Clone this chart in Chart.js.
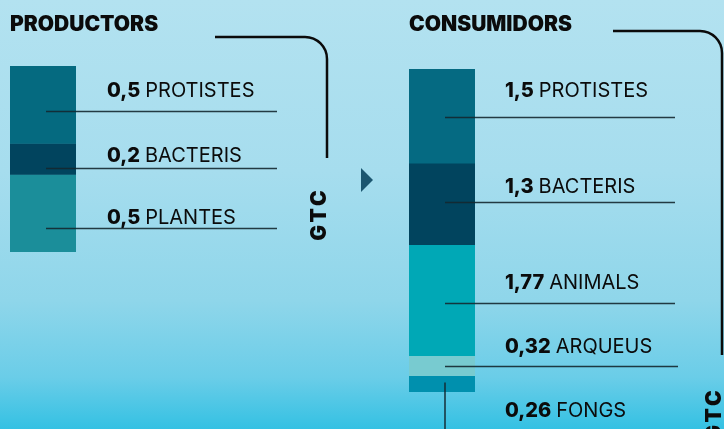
<!DOCTYPE html>
<html>
<head>
<meta charset="utf-8">
<script src="https://cdn.jsdelivr.net/npm/chart.js@4"></script>
<style>
  html, body { margin: 0; padding: 0; }
  body {
    width: 724px; height: 429px; overflow: hidden; position: relative;
    background: linear-gradient(180deg, #b3e2f0 0%, #a6ddee 40%, #8fd6ea 70%, #6acde8 88%, #34c1e3 100%);
  }
  canvas { position: absolute; top: 0; }
  #prodChart { left: 0; }
  #consChart { left: 362px; }
</style>
</head>
<body>
<canvas id="prodChart" width="400" height="429"></canvas>
<canvas id="consChart" width="362" height="429"></canvas>
<script>
// dades (GtC)
const producerNames = ['PROTISTES', 'BACTERIS', 'PLANTES'];
const producerValues = [0.5, 0.2, 0.5];
const consumerNames = ['PROTISTES', 'BACTERIS', 'ANIMALS', 'ARQUEUS', 'FONGS'];
const consumerValues = [1.5, 1.3, 1.77, 0.32, 0.26];
const unitLabel = 'GTC';

const producerColors = ['#056a80', '#01445e', '#1b8e9a'];
const consumerColors = ['#056a82', '#01445e', '#00a8b6', '#78cbd0', '#0090ae'];

const fmt = v => String(v).replace('.', ',');
const sum = arr => arr.reduce((a, b) => a + b, 0);

// on cau la línia dins de cada segment i on va el text respecte la línia
const producerLineFrac = [0.58, 0.79, 0.69];
const producerTextDy = [-21, -13, -11];
const consumerLineFrac = [0.51, 0.48, 0.53, 0.52, 0.5];
const consumerTextDy = [-27, -16, -21, -20, 26];

const LABEL_FONT = '20px Inter';
const VALUE_FONT = '800 20px Inter';
const TITLE_FONT = '900 21px Inter';

function drawBracket(ctx, x0, y0, x1, y1, r) {
  ctx.save();
  ctx.strokeStyle = '#0b0b0b';
  ctx.lineWidth = 2.5;
  ctx.beginPath();
  ctx.moveTo(x0, y0);
  ctx.lineTo(x1 - r, y0);
  ctx.arcTo(x1, y0, x1, y0 + r, r);
  ctx.lineTo(x1, y1);
  ctx.stroke();
  ctx.restore();
}

function drawUnit(ctx, x, y) {
  ctx.save();
  ctx.translate(x, y);
  ctx.rotate(-Math.PI / 2);
  ctx.font = '900 21px Inter';
  ctx.letterSpacing = '3px';
  ctx.fillStyle = '#0b0b0b';
  ctx.textAlign = 'center';
  ctx.textBaseline = 'middle';
  ctx.fillText(unitLabel, 0, 0);
  ctx.restore();
}

function makeLabelPlugin(opts) {
  return {
    id: 'labels_' + opts.key,
    afterDraw(chart) {
      const ctx = chart.ctx;
      const area = chart.chartArea;
      const y = chart.scales.y;
      const cx = (area.left + area.right) / 2 + 3;

      // títol
      ctx.save();
      ctx.font = TITLE_FONT;
      ctx.fillStyle = '#0b0b0b';
      ctx.textBaseline = 'middle';
      ctx.fillText(opts.title, area.left, opts.titleY);
      ctx.restore();

      let start = 0;
      opts.values.forEach((v, i) => {
        const lineY = Math.round(y.getPixelForValue(start + v * opts.lineFrac[i])) + 0.5;
        ctx.save();
        ctx.strokeStyle = 'rgba(20, 40, 48, 0.9)';
        ctx.lineWidth = 1.6;
        ctx.beginPath();
        if (opts.vertical && i === opts.values.length - 1) {
          ctx.moveTo(cx, lineY - 2);
          ctx.lineTo(cx, chart.height);
        } else {
          ctx.moveTo(cx, lineY);
          ctx.lineTo(area.right + opts.lineLen + (opts.lineExtra[i] || 0), lineY);
        }
        ctx.stroke();

        const tx = area.right + opts.textGap;
        const ty = lineY + opts.textDy[i];
        ctx.textBaseline = 'middle';
        ctx.fillStyle = '#0b0b0b';
        ctx.font = VALUE_FONT;
        const num = fmt(v);
        ctx.fillText(num, tx, ty);
        const w = ctx.measureText(num).width;
        ctx.font = LABEL_FONT;
        ctx.fillText(opts.names[i], tx + w + 5, ty);
        ctx.restore();
        start += v;
      });

      opts.extra(ctx);
    }
  };
}

function stackedConfig(names, values, colors, padding, plugin) {
  return {
    type: 'bar',
    data: {
      labels: [''],
      datasets: names.map((n, i) => ({
        label: n,
        data: [values[i]],
        backgroundColor: colors[i],
        borderWidth: 0,
        stack: 's',
        barPercentage: 1,
        categoryPercentage: 1
      }))
    },
    options: {
      responsive: false,
      animation: false,
      devicePixelRatio: 1,
      layout: { padding: padding },
      plugins: { legend: { display: false }, tooltip: { enabled: false } },
      scales: {
        x: { display: false, stacked: true },
        y: { display: false, stacked: true, reverse: true, min: 0, max: sum(values) }
      }
    },
    plugins: [plugin]
  };
}

new Chart(document.getElementById('prodChart'), stackedConfig(
  producerNames, producerValues, producerColors,
  { left: 10, right: 400 - 76, top: 66, bottom: 429 - 252 },
  makeLabelPlugin({
    key: 'prod', title: 'PRODUCTORS', titleY: 25,
    names: producerNames, values: producerValues,
    lineFrac: producerLineFrac, textDy: producerTextDy, lineExtra: [],
    lineLen: 201, textGap: 31, vertical: false,
    extra(ctx) {
      drawBracket(ctx, 215, 37, 327, 158, 22);
      drawUnit(ctx, 320, 214);
      // fletxa cap als consumidors
      ctx.save();
      ctx.fillStyle = '#1b5670';
      ctx.beginPath();
      ctx.moveTo(361, 168);
      ctx.lineTo(373, 180);
      ctx.lineTo(361, 192);
      ctx.closePath();
      ctx.fill();
      ctx.restore();
    }
  })
));

new Chart(document.getElementById('consChart'), stackedConfig(
  consumerNames, consumerValues, consumerColors,
  { left: 409 - 362, right: 362 - (475 - 362), top: 69, bottom: 429 - 392 },
  makeLabelPlugin({
    key: 'cons', title: 'CONSUMIDORS', titleY: 25,
    names: consumerNames, values: consumerValues,
    lineFrac: consumerLineFrac, textDy: consumerTextDy, lineExtra: [0, 0, 0, 3, 0],
    lineLen: 200, textGap: 30, vertical: true,
    extra(ctx) {
      drawBracket(ctx, 613 - 362, 31, 722 - 362, 355, 22);
      drawUnit(ctx, 715 - 362, 414);
    }
  })
));
</script>
</body>
</html>
